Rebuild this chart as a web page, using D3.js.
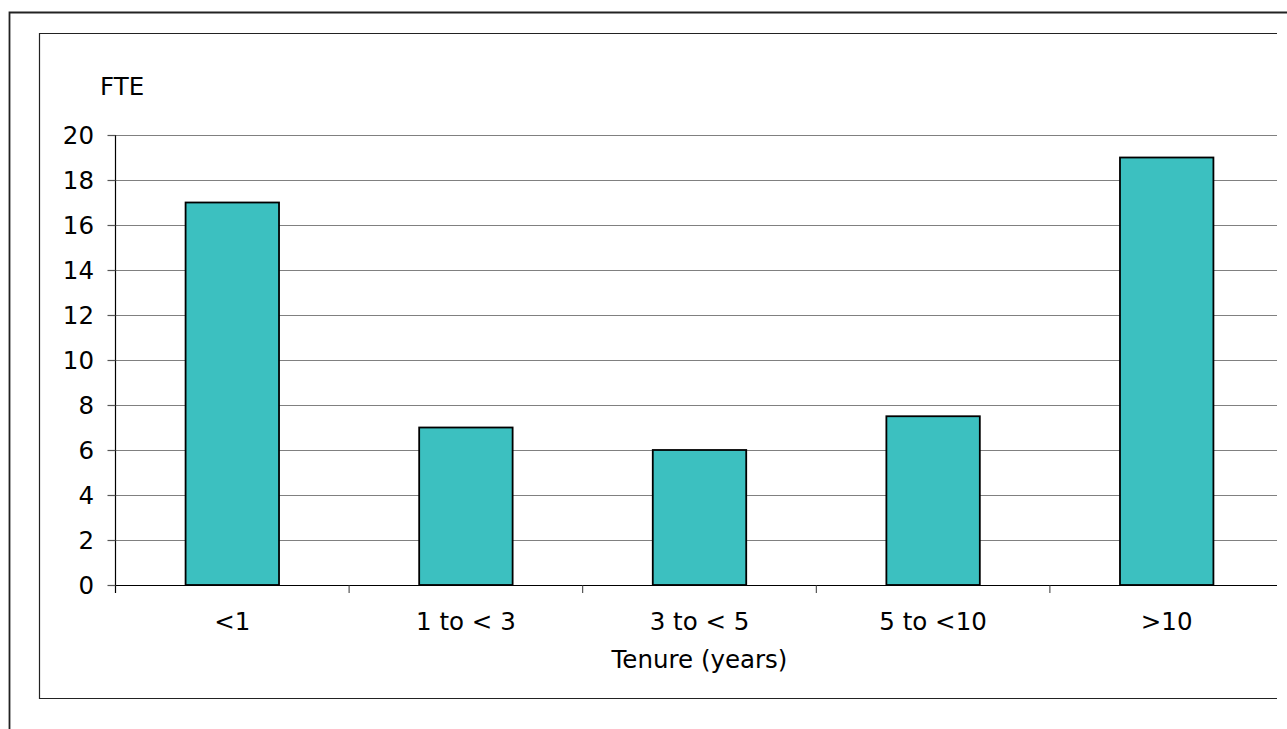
<!DOCTYPE html>
<html>
<head>
<meta charset="utf-8">
<script src="https://cdn.jsdelivr.net/npm/d3@7"></script>
<style>
  html, body { margin: 0; padding: 0; background: #fff; }
  svg { display: block; }
  text { font-family: "DejaVu Sans", Verdana, sans-serif; fill: #000; }
</style>
</head>
<body>
<svg id="chart" width="1287" height="729"></svg>
<script>
const categories = ["<1", "1 to < 3", "3 to < 5", "5 to <10", ">10"];
const fteValues = [17, 7, 6, 7.5, 19];
const yTicks = [0, 2, 4, 6, 8, 10, 12, 14, 16, 18, 20];
const yAxisTitle = "FTE";
const xAxisTitle = "Tenure (years)";

const svg = d3.select("#chart");

// frames
svg.append("path")
  .attr("d", "M9.5,729 L9.5,12.5 L1287,12.5")
  .attr("fill", "none").attr("stroke", "#222").attr("stroke-width", 1.8);
svg.append("path")
  .attr("d", "M1277,33.5 L39.5,33.5 L39.5,698.5 L1277,698.5")
  .attr("fill", "none").attr("stroke", "#222").attr("stroke-width", 1.2);

const plotLeft = 115.5, plotRight = 1283.5, clipRight = 1277;
const x = d3.scaleBand().domain(categories).range([plotLeft, plotRight]).paddingInner(0.6).paddingOuter(0.3);
const xb = d3.scaleBand().domain(categories).range([plotLeft, plotRight]);
const y = d3.scaleLinear().domain([0, 20]).range([585, 135]);

svg.append("clipPath").attr("id", "clip")
  .append("rect").attr("x", 0).attr("y", 0).attr("width", clipRight).attr("height", 729);

const g = svg.append("g").attr("clip-path", "url(#clip)");

// gridlines
g.append("g").selectAll("line").data(yTicks.filter(d => d > 0)).join("line")
  .attr("x1", plotLeft).attr("x2", plotRight)
  .attr("y1", d => Math.round(y(d)) + 0.5).attr("y2", d => Math.round(y(d)) + 0.5)
  .attr("stroke", "#808080").attr("stroke-width", 1.2);

// bars
g.append("g").selectAll("rect").data(fteValues).join("rect")
  .attr("x", (d, i) => x(categories[i]))
  .attr("width", x.bandwidth())
  .attr("y", d => y(d))
  .attr("height", d => y(0) - y(d))
  .attr("fill", "#3CC0C0")
  .attr("stroke", "#000").attr("stroke-width", 1.8);

// x axis line + ticks
const xAxis = d3.axisBottom(xb).tickSize(8).tickSizeOuter(0).tickFormat("");
const xAxisG = g.append("g").attr("transform", "translate(0,585)").call(xAxis);
xAxisG.select(".domain").attr("stroke", "#000").attr("stroke-width", 1.2);
xAxisG.selectAll(".tick").attr("transform", d => `translate(${xb(d)},0)`);
xAxisG.selectAll(".tick line").attr("stroke", "#333").attr("stroke-width", 1);
// closing tick at right edge (clipped)
xAxisG.append("line").attr("x1", plotRight).attr("x2", plotRight).attr("y1", 0).attr("y2", 8).attr("stroke", "#333");

// x category labels
svg.append("g").selectAll("text").data(categories).join("text")
  .attr("x", d => xb(d) + xb.bandwidth() / 2)
  .attr("y", 629.5)
  .attr("text-anchor", "middle")
  .attr("font-size", 24.5)
  .text(d => d);

// y axis
const yAxis = d3.axisLeft(y).tickValues(yTicks).tickSize(8).tickSizeOuter(0).tickFormat("");
const yAxisG = svg.append("g").attr("transform", `translate(${plotLeft},0)`).call(yAxis);
yAxisG.select(".domain").attr("stroke", "#000").attr("stroke-width", 1.2)
  .attr("d", `M0,${y(20)}V${y(0) + 8}`);
yAxisG.selectAll(".tick line").attr("stroke", "#555").attr("stroke-width", 1.2);

svg.append("g").selectAll("text").data(yTicks).join("text")
  .attr("x", 94)
  .attr("y", d => y(d) + 9)
  .attr("text-anchor", "end")
  .attr("font-size", 24.5)
  .text(d => d);

// titles
svg.append("text").attr("x", 100).attr("y", 94.5).attr("font-size", 24.5).text(yAxisTitle);
svg.append("text").attr("x", 699.5).attr("y", 667.5).attr("text-anchor", "middle").attr("font-size", 24.5).text(xAxisTitle);
</script>
</body>
</html>
